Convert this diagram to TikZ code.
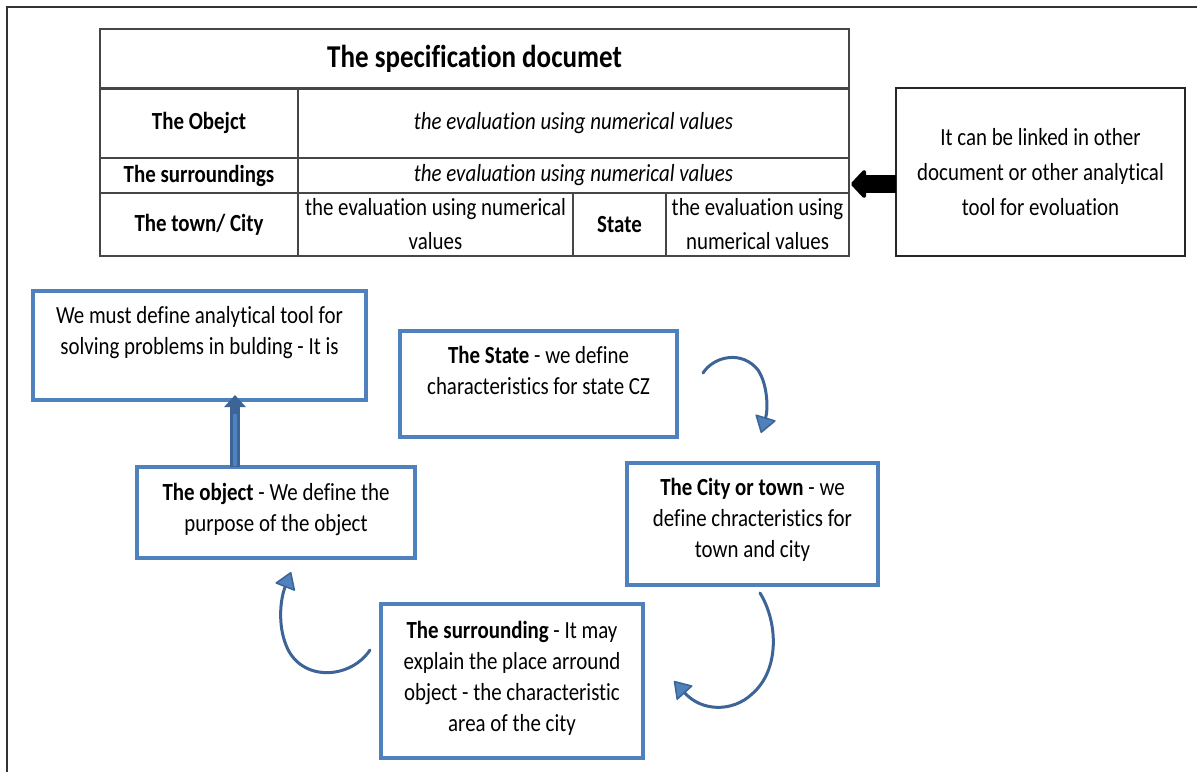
\documentclass[tikz,border=0pt]{standalone}
\usepackage{fontspec}
\setmainfont{Carlito}[FakeStretch=0.85, Ligatures={NoCommon}]
\usetikzlibrary{arrows.meta,calc}
\definecolor{boxblue}{RGB}{79,129,189}
\definecolor{arrblue}{RGB}{60,100,150}
\definecolor{tgray}{RGB}{70,70,70}
\begin{document}
\begin{tikzpicture}[x=1pt,y=-1pt,
  every node/.style={inner sep=0pt, outer sep=0pt},
  cell/.style={draw=tgray, line width=1.2pt, rectangle, align=center, font=\fontsize{24.6}{34}\selectfont},
  rbox/.style={draw=black!85, line width=1.2pt, rectangle, align=center, font=\fontsize{24.6}{35}\selectfont},
  bbox/.style={draw=boxblue, line width=4pt, rectangle},
  btext/.style={align=center, anchor=north, font=\fontsize{24.6}{31}\selectfont},
  carr/.style={draw=arrblue, line width=3pt, line cap=round,
    -{Triangle[length=17pt,width=22pt,fill=boxblue,line width=1.5pt,round]}},
  ]
\fill[white] (0,0) rectangle (1197,772);
\useasboundingbox (0,0) rectangle (1197,772);
% outer frame
\draw[line width=2pt, black!80] (7,772) -- (7,7) -- (1197,7);

% table
\node[cell, minimum width=749, minimum height=60, font=\bfseries\fontsize{31.8}{36}\selectfont] (title) at (474.5,59) {The specification documet};
\node[cell, minimum width=198, minimum height=70, font=\bfseries\fontsize{24.6}{34}\selectfont] (r1a) at (199,123) {The Obejct};
\node[cell, minimum width=551, minimum height=70, font=\itshape\fontsize{24.6}{34}\selectfont] (r1b) at (573.5,123) {the evaluation using numerical values};
\node[cell, minimum width=198, minimum height=35, font=\bfseries\fontsize{24.6}{34}\selectfont] (r2a) at (199,175.5) {The surroundings};
\node[cell, minimum width=551, minimum height=35, font=\itshape\fontsize{24.6}{34}\selectfont] (r2b) at (573.5,175.5) {the evaluation using numerical values};
\node[cell, minimum width=198, minimum height=63, font=\bfseries\fontsize{24.6}{34}\selectfont] (r3a) at (199,224.5) {The town/ City};
\node[cell, minimum width=275, minimum height=63] (r3b) at (435.5,224.5) {the evaluation using numerical\\values};
\node[cell, minimum width=93, minimum height=63, font=\bfseries\fontsize{24.6}{34}\selectfont] (r3c) at (619.5,224.5) {State};
\node[cell, minimum width=183, minimum height=63] (r3d) at (757.5,224.5) {the evaluation using\\numerical values};

% right box
\node[rbox, minimum width=289, minimum height=168] (link) at (1040.5,172) {It can be linked in other\\document or other analytical\\tool for evoluation};
\coordinate (ay) at (0,184);
\draw[line width=18pt, -{Triangle[length=16pt,width=33pt,round]}, shorten >=2pt] (link.west |- ay) -- (r2b.east |- ay);

% blue boxes
\node[bbox, minimum width=333, minimum height=109] (must) at (199.5,345) {};
\node[btext] (mustt) at ($(must.north)+(0,16)$) {We must define analytical tool for\\solving problems in bulding - It is};

\node[bbox, minimum width=278, minimum height=91] (obj) at (276,512.5) {};
\node[btext] (objt) at ($(obj.north)+(0,16.5)$) {\textbf{The object} - We define the\\purpose of the object};

\node[bbox, minimum width=277, minimum height=106] (state) at (538.5,384) {};
\node[btext] (statet) at ($(state.north)+(0,15.5)$) {\textbf{The State} - we define\\characteristics for state CZ};

\node[bbox, minimum width=251, minimum height=121.5] (city) at (752.5,524) {};
\node[btext] (cityt) at ($(city.north)+(0,15)$) {\textbf{The City or town} - we\\define chracteristics for\\town and city};

\node[bbox, minimum width=262, minimum height=153.5] (surr) at (512,681) {};
\node[btext] (surrt) at ($(surr.north)+(0,17)$) {\textbf{The surrounding} - It may\\explain the place arround\\object - the characteristic\\area of the city};

% thick up arrow
\coordinate (ux) at (235,0);
\draw[line width=10pt, arrblue, -{Triangle[length=12pt,width=21pt]}, shorten >=-4.5pt] (obj.north -| ux) -- (must.south -| ux);
\draw[line width=3.5pt, boxblue, shorten >=14pt, shorten <=1pt] (obj.north -| ux) -- (must.south -| ux);

% curved arrows
\coordinate (c1a) at (703,373);
\coordinate (c1b) at (761,433);
\draw[carr] (c1a) .. controls (714,356) and (742,350) .. (758,370) .. controls (768,385) and (768,410) .. (c1b);
\coordinate (c2a) at (760,593);
\coordinate (c2b) at (674,681);
\draw[carr] (c2a) .. controls (778,622) and (780,670) .. (752,694) .. controls (733,712) and (702,712) .. (c2b);
\coordinate (c3a) at (370,650);
\coordinate (c3b) at (291,572);
\draw[carr] (c3a) .. controls (350,680) and (300,682) .. (286,645) .. controls (278,625) and (280,600) .. (c3b);
\end{tikzpicture}
\end{document}
